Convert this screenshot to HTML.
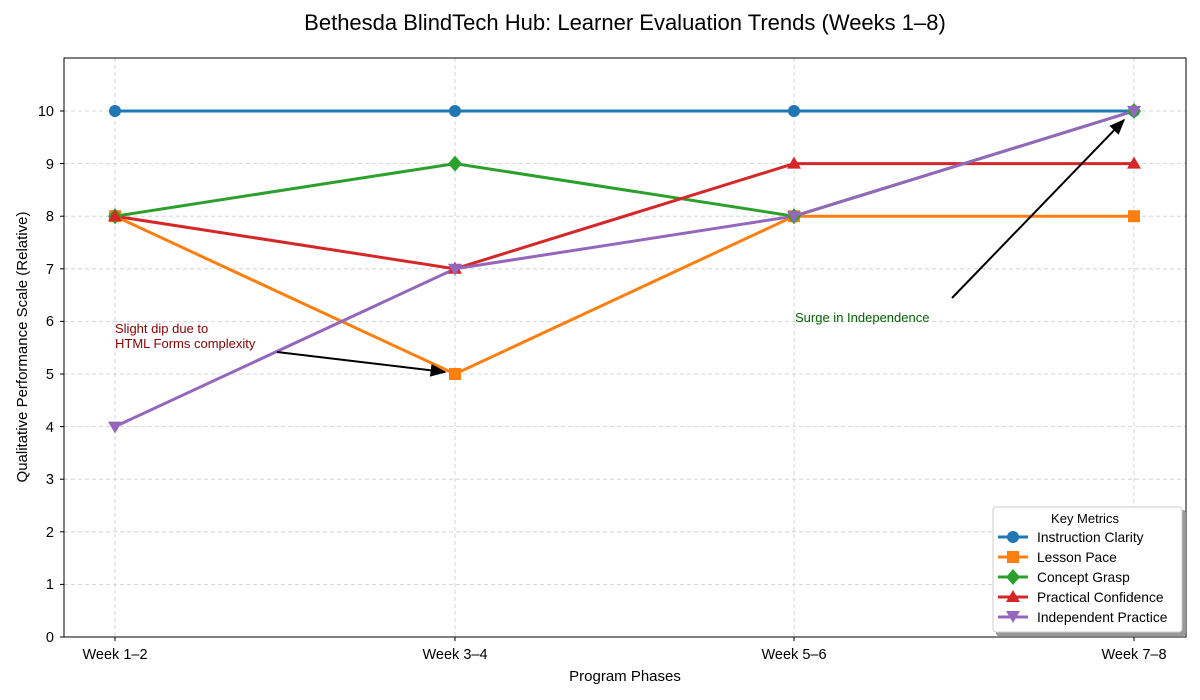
<!DOCTYPE html>
<html><head><style>body{margin:0;background:#fff}svg{display:block}text{font-family:"Liberation Sans",sans-serif}</style></head><body>
<svg width="1200" height="700" xmlns="http://www.w3.org/2000/svg">
<defs><marker id="ah" viewBox="0 0 10 10" refX="9" refY="5" markerWidth="8" markerHeight="8" orient="auto"><path d="M0,1 L10,5 L0,9 Z" fill="#000"/></marker></defs>
<text x="625" y="30" font-size="22" text-anchor="middle">Bethesda BlindTech Hub: Learner Evaluation Trends (Weeks 1–8)</text>
<g stroke="#ccc" stroke-dasharray="4,3" stroke-width="0.8">
<line x1="115" y1="58" x2="115" y2="637"/><line x1="455" y1="58" x2="455" y2="637"/><line x1="794" y1="58" x2="794" y2="637"/><line x1="1134" y1="58" x2="1134" y2="637"/>
<line x1="64" x2="1186" y1="584.4" y2="584.4"/><line x1="64" x2="1186" y1="531.8" y2="531.8"/><line x1="64" x2="1186" y1="479.2" y2="479.2"/><line x1="64" x2="1186" y1="426.6" y2="426.6"/><line x1="64" x2="1186" y1="374" y2="374"/><line x1="64" x2="1186" y1="321.4" y2="321.4"/><line x1="64" x2="1186" y1="268.8" y2="268.8"/><line x1="64" x2="1186" y1="216.2" y2="216.2"/><line x1="64" x2="1186" y1="163.6" y2="163.6"/><line x1="64" x2="1186" y1="111" y2="111"/>
</g>
<rect x="64" y="58" width="1122" height="579" fill="none" stroke="#000" stroke-width="1"/>
<g font-size="14.5" text-anchor="end">
<text x="54" y="642">0</text><text x="54" y="589">1</text><text x="54" y="537">2</text><text x="54" y="484">3</text><text x="54" y="432">4</text><text x="54" y="379">5</text><text x="54" y="326">6</text><text x="54" y="274">7</text><text x="54" y="221">8</text><text x="54" y="169">9</text><text x="54" y="116">10</text>
</g>
<g stroke="#000"><line x1="60" x2="64" y1="637" y2="637"/><line x1="60" x2="64" y1="584.4" y2="584.4"/><line x1="60" x2="64" y1="531.8" y2="531.8"/><line x1="60" x2="64" y1="479.2" y2="479.2"/><line x1="60" x2="64" y1="426.6" y2="426.6"/><line x1="60" x2="64" y1="374" y2="374"/><line x1="60" x2="64" y1="321.4" y2="321.4"/><line x1="60" x2="64" y1="268.8" y2="268.8"/><line x1="60" x2="64" y1="216.2" y2="216.2"/><line x1="60" x2="64" y1="163.6" y2="163.6"/><line x1="60" x2="64" y1="111" y2="111"/>
<line x1="115" x2="115" y1="637" y2="641"/><line x1="455" x2="455" y1="637" y2="641"/><line x1="794" x2="794" y1="637" y2="641"/><line x1="1134" x2="1134" y1="637" y2="641"/></g>
<g font-size="14.5" text-anchor="middle"><text x="115" y="659">Week 1–2</text><text x="455" y="659">Week 3–4</text><text x="794" y="659">Week 5–6</text><text x="1134" y="659">Week 7–8</text></g>
<text x="625" y="681" font-size="15" text-anchor="middle">Program Phases</text>
<text transform="translate(27,347) rotate(-90)" font-size="15" text-anchor="middle">Qualitative Performance Scale (Relative)</text>
<g fill="none" stroke-width="3">
<polyline points="115,111 455,111 794,111 1134,111" stroke="#1f77b4"/>
<polyline points="115,216.2 455,374 794,216.2 1134,216.2" stroke="#ff7f0e"/>
<polyline points="115,216.2 455,163.6 794,216.2 1134,111" stroke="#2ca02c"/>
<polyline points="115,216.2 455,268.8 794,163.6 1134,163.6" stroke="#d62728"/>
<polyline points="115,426.6 455,268.8 794,216.2 1134,111" stroke="#9467bd"/>
</g>
<g fill="#1f77b4"><circle cx="115" cy="111" r="6"/><circle cx="455" cy="111" r="6"/><circle cx="794" cy="111" r="6"/><circle cx="1134" cy="111" r="6"/></g>
<g fill="#ff7f0e"><rect x="109" y="210.2" width="12" height="12"/><rect x="449" y="368" width="12" height="12"/><rect x="788" y="210.2" width="12" height="12"/><rect x="1128" y="210.2" width="12" height="12"/></g>
<g fill="#2ca02c"><path d="M115,208.2 l7,8 l-7,8 l-7,-8z"/><path d="M455,155.6 l7,8 l-7,8 l-7,-8z"/><path d="M794,208.2 l7,8 l-7,8 l-7,-8z"/><path d="M1134,103 l7,8 l-7,8 l-7,-8z"/></g>
<g fill="#d62728"><path d="M115,209.2 l7,12 h-14z"/><path d="M455,261.8 l7,12 h-14z"/><path d="M794,156.6 l7,12 h-14z"/><path d="M1134,156.6 l7,12 h-14z"/></g>
<g fill="#9467bd"><path d="M108,421.6 h14 l-7,12z"/><path d="M448,263.8 h14 l-7,12z"/><path d="M787,211.2 h14 l-7,12z"/><path d="M1127,106 h14 l-7,12z"/></g>
<text x="115" y="333" font-size="13" fill="#8b0000">Slight dip due to</text>
<text x="115" y="348" font-size="13" fill="#8b0000">HTML Forms complexity</text>
<line x1="277" y1="352" x2="445" y2="372" stroke="#000" stroke-width="2" marker-end="url(#ah)"/>
<text x="795" y="322" font-size="13" fill="#006400">Surge in Independence</text>
<line x1="952" y1="298" x2="1124" y2="120" stroke="#000" stroke-width="2" marker-end="url(#ah)"/>
<rect x="996" y="510" width="190" height="126" fill="#999" rx="3"/>
<rect x="993" y="507" width="189" height="125" fill="#fff" stroke="#ccc" rx="3"/>
<text x="1085" y="523" font-size="13" text-anchor="middle">Key Metrics</text>
<g stroke-width="3"><line x1="998" x2="1028" y1="537" y2="537" stroke="#1f77b4"/><line x1="998" x2="1028" y1="557" y2="557" stroke="#ff7f0e"/><line x1="998" x2="1028" y1="577" y2="577" stroke="#2ca02c"/><line x1="998" x2="1028" y1="597" y2="597" stroke="#d62728"/><line x1="998" x2="1028" y1="617" y2="617" stroke="#9467bd"/></g>
<circle cx="1013" cy="537" r="6" fill="#1f77b4"/><rect x="1007" y="551" width="12" height="12" fill="#ff7f0e"/><path d="M1013,569 l7,8 l-7,8 l-7,-8z" fill="#2ca02c"/><path d="M1013,590 l7,12 h-14z" fill="#d62728"/><path d="M1006,611 h14 l-7,12z" fill="#9467bd"/>
<g font-size="13.8"><text x="1037" y="542">Instruction Clarity</text><text x="1037" y="562">Lesson Pace</text><text x="1037" y="582">Concept Grasp</text><text x="1037" y="602">Practical Confidence</text><text x="1037" y="622">Independent Practice</text></g>
</svg>
</body></html>
